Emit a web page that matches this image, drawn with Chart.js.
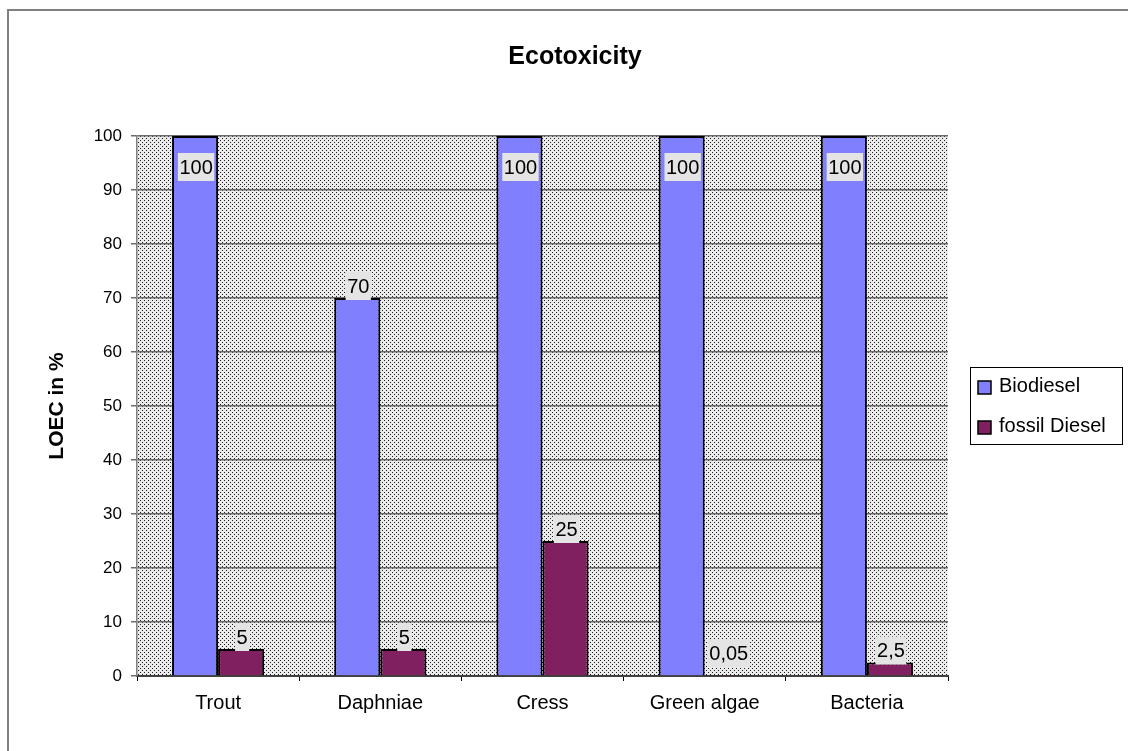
<!DOCTYPE html>
<html>
<head>
<meta charset="utf-8">
<script src="https://cdn.jsdelivr.net/npm/chart.js@4"></script>
<style>
  html, body { margin: 0; padding: 0; background: #fff; }
  #wrap { width: 1128px; height: 751px; position: relative; }
</style>
</head>
<body>
<div id="wrap"><canvas id="chart" width="1128" height="751"></canvas></div>
<script>
const categories = ['Trout', 'Daphniae', 'Cress', 'Green algae', 'Bacteria'];
const biodiesel = [100, 70, 100, 100, 100];
const fossilDiesel = [5, 5, 25, 0.05, 2.5];
const seriesNames = ['Biodiesel', 'fossil Diesel'];
const yTicks = [0, 10, 20, 30, 40, 50, 60, 70, 80, 90, 100];
const chartTitle = 'Ecotoxicity';

const FONT = "'Liberation Sans', Arial, sans-serif";

// dotted plot background like the old office charts
function makePattern() {
    const c = document.createElement('canvas');
    c.width = 4; c.height = 4;
    const g = c.getContext('2d');
    g.fillStyle = '#eaeaea';
    g.fillRect(0, 0, 4, 4);
    g.fillStyle = '#202020';
    g.fillRect(0, 0, 1, 1);
    g.fillRect(2, 2, 1, 1);
    return g.createPattern(c, 'repeat');
}

function fmt(v) {
    return String(v).replace('.', ',');
}

const decorPlugin = {
    id: 'decor',
    beforeDraw(chart) {
        const ctx = chart.ctx;
        const a = chart.chartArea;
        ctx.save();
        // outer frame (left + top)
        ctx.strokeStyle = '#808080';
        ctx.lineWidth = 2;
        ctx.beginPath();
        ctx.moveTo(8, 752);
        ctx.lineTo(8, 10);
        ctx.lineTo(1130, 10);
        ctx.stroke();
        // title
        ctx.fillStyle = '#000';
        ctx.font = 'bold 25px ' + FONT;
        ctx.textAlign = 'center';
        ctx.textBaseline = 'middle';
        ctx.fillText(chartTitle, 575, 57);
        // plot area fill
        ctx.fillStyle = makePattern();
        ctx.fillRect(a.left, a.top, a.right - a.left, a.bottom - a.top);
        ctx.restore();
    },
    afterDatasetsDraw(chart) {
        const ctx = chart.ctx;
        const a = chart.chartArea;
        ctx.save();
        ctx.font = '20px ' + FONT;
        ctx.textAlign = 'center';
        ctx.textBaseline = 'middle';
        chart.data.datasets.forEach((ds, i) => {
            const meta = chart.getDatasetMeta(i);
            meta.data.forEach((bar, j) => {
                const txt = fmt(ds.data[j]);
                const w = ctx.measureText(txt).width + 3;
                const h = 28;
                let cy = bar.y - 12;
                if (cy < a.top + 31) cy = a.top + 31;
                if (cy > a.bottom - 23) cy = a.bottom - 23;
                const cx = bar.x + 1;
                ctx.fillStyle = '#e4e4e4';
                ctx.fillRect(cx - w / 2, cy - h / 2, w, h);
                ctx.fillStyle = '#000';
                ctx.fillText(txt, cx, cy + 1);
            });
        });

        // legend box
        const lx = 970, ly = 367, lw = 152, lh = 77;
        ctx.fillStyle = '#fff';
        ctx.fillRect(lx, ly, lw, lh);
        ctx.strokeStyle = '#000';
        ctx.lineWidth = 1;
        ctx.strokeRect(lx + 0.5, ly + 0.5, lw, lh);
        ctx.textAlign = 'left';
        ctx.font = '20px ' + FONT;
        chart.data.datasets.forEach((ds, i) => {
            const cy = ly + 18 + i * 40;
            ctx.fillStyle = ds.backgroundColor;
            ctx.fillRect(lx + 8, cy - 4, 13, 13);
            ctx.strokeStyle = '#000';
            ctx.lineWidth = 1.5;
            ctx.strokeRect(lx + 8, cy - 4, 13, 13);
            ctx.fillStyle = '#000';
            ctx.fillText(ds.label, lx + 29, cy + 1);
        });
        ctx.restore();
    }
};

const ctx = document.getElementById('chart').getContext('2d');

new Chart(ctx, {
    type: 'bar',
    data: {
        labels: categories,
        datasets: [{
            label: seriesNames[0],
            data: biodiesel,
            backgroundColor: '#8080ff',
            borderColor: '#000',
            borderWidth: 2
        }, {
            label: seriesNames[1],
            data: fossilDiesel,
            backgroundColor: '#802060',
            borderColor: '#000',
            borderWidth: 2
        }]
    },
    plugins: [decorPlugin],
    options: {
        responsive: false,
        animation: false,
        layout: {
            padding: { left: 10, right: 180, top: 136, bottom: 0 }
        },
        datasets: {
            bar: {
                categoryPercentage: 0.568,
                barPercentage: 1
            }
        },
        plugins: {
            legend: { display: false },
            tooltip: { enabled: false },
            title: { display: false }
        },
        scales: {
            x: {
                offset: true,
                grid: {
                    display: true,
                    offset: true,
                    drawOnChartArea: false,
                    drawTicks: true,
                    tickLength: 5,
                    lineWidth: 1,
                    color: '#000'
                },
                border: { display: true, color: '#404040', width: 2 },
                ticks: {
                    color: '#000',
                    padding: 10,
                    font: { family: FONT, size: 20 }
                },
                afterFit(scale) { scale.height = 75; }
            },
            y: {
                min: 0,
                max: 100,
                afterBuildTicks(scale) {
                    scale.ticks = yTicks.map(v => ({ value: v }));
                },
                grid: {
                    color: '#6a6a6a',
                    lineWidth: 1.5,
                    tickLength: 6
                },
                border: { display: true, color: '#808080', width: 1.5 },
                ticks: {
                    color: '#000',
                    padding: 9,
                    font: { family: FONT, size: 17 }
                },
                title: {
                    display: true,
                    text: 'LOEC in %',
                    color: '#000',
                    font: { family: FONT, size: 21, weight: 'bold' },
                    padding: { top: 35, bottom: 0 }
                },
                afterFit(scale) { scale.width = 127; }
            }
        }
    }
});
</script>
</body>
</html>
